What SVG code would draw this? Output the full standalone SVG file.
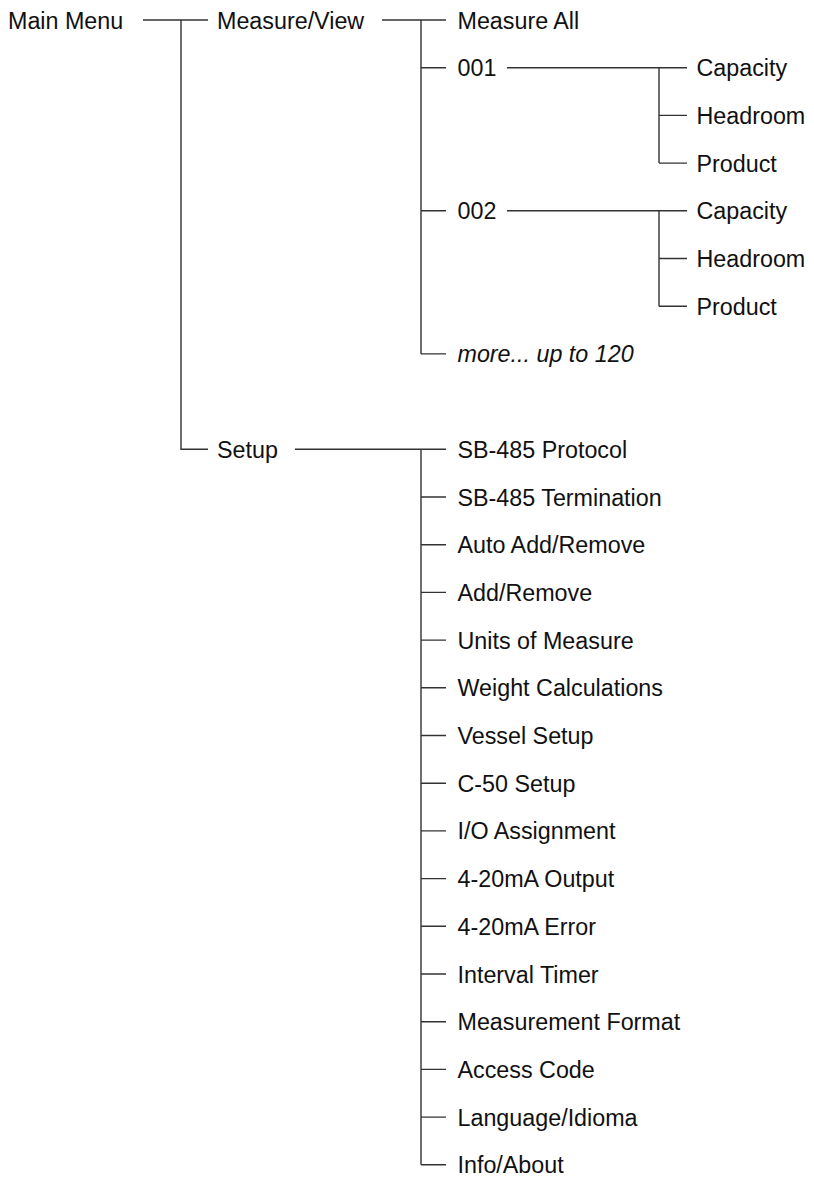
<svg xmlns="http://www.w3.org/2000/svg" width="814" height="1180" viewBox="0 0 814 1180">
<style>
text{font-family:"Liberation Sans",Arial,Helvetica,sans-serif;font-size:23.3px;fill:#111}
.it{font-style:italic}
.c path{fill:none;stroke:#333;stroke-width:1.4}
</style>
<rect width="814" height="1180" fill="#fff"/>
<g class="c" id="connectors">
<path d="M143 20H208M181 20V449.3H208"/>
<path d="M382 20H446M421 20V353.9M421 67.7H446M421 210.8H446M421 353.9H446"/>
<path d="M507 67.7H687M659 67.7V163.1M659 115.4H687M659 163.1H687"/>
<path d="M507 210.8H687M659 210.8V306.2M659 258.5H687M659 306.2H687"/>
<path d="M295 449.3H446M421 449.3V1164.8M421 497H446M421 544.7H446M421 592.4H446M421 640.1H446M421 687.8H446M421 735.5H446M421 783.2H446M421 830.9H446M421 878.6H446M421 926.3H446M421 974H446M421 1021.7H446M421 1069.4H446M421 1117.1H446M421 1164.8H446"/>
</g>
<g id="main"><text x="8" y="28.5">Main Menu</text></g>
<g id="measure"><text x="217" y="28.5">Measure/View</text></g>
<g id="measureall"><text x="457.5" y="28.5">Measure All</text></g>
<g id="n001"><text x="457.5" y="76.2">001</text></g>
<g id="n001cap"><text x="696.5" y="76.2">Capacity</text></g>
<g id="n001head"><text x="696.5" y="123.9">Headroom</text></g>
<g id="n001prod"><text x="696.5" y="171.6">Product</text></g>
<g id="n002"><text x="457.5" y="219.3">002</text></g>
<g id="n002cap"><text x="696.5" y="219.3">Capacity</text></g>
<g id="n002head"><text x="696.5" y="267">Headroom</text></g>
<g id="n002prod"><text x="696.5" y="314.7">Product</text></g>
<g id="more"><text class="it" x="457.5" y="362.4">more... up to 120</text></g>
<g id="setup"><text x="217" y="457.8">Setup</text></g>
<g id="s1"><text x="457.5" y="457.8">SB-485 Protocol</text></g>
<g id="s2"><text x="457.5" y="505.5">SB-485 Termination</text></g>
<g id="s3"><text x="457.5" y="553.2">Auto Add/Remove</text></g>
<g id="s4"><text x="457.5" y="600.9">Add/Remove</text></g>
<g id="s5"><text x="457.5" y="648.6">Units of Measure</text></g>
<g id="s6"><text x="457.5" y="696.3">Weight Calculations</text></g>
<g id="s7"><text x="457.5" y="744">Vessel Setup</text></g>
<g id="s8"><text x="457.5" y="791.7">C-50 Setup</text></g>
<g id="s9"><text x="457.5" y="839.4">I/O Assignment</text></g>
<g id="s10"><text x="457.5" y="887.1">4-20mA Output</text></g>
<g id="s11"><text x="457.5" y="934.8">4-20mA Error</text></g>
<g id="s12"><text x="457.5" y="982.5">Interval Timer</text></g>
<g id="s13"><text x="457.5" y="1030.2">Measurement Format</text></g>
<g id="s14"><text x="457.5" y="1077.9">Access Code</text></g>
<g id="s15"><text x="457.5" y="1125.6">Language/Idioma</text></g>
<g id="s16"><text x="457.5" y="1173.3">Info/About</text></g>
</svg>
